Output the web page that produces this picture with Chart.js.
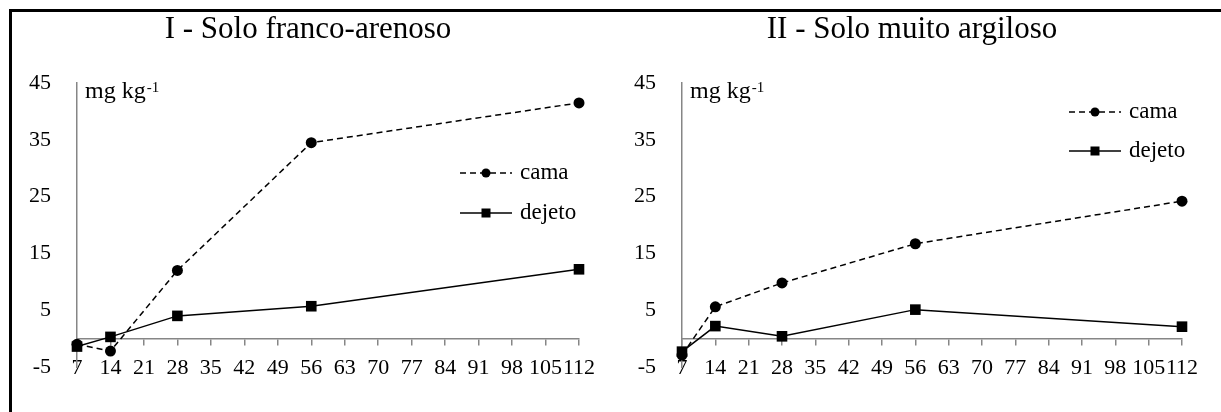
<!DOCTYPE html>
<html lang="pt">
<head>
  <meta charset="UTF-8">
  <title>Solo franco-arenoso / muito argiloso</title>
  <style>
    body {
      margin: 0;
      background: #fff;
      width: 1221px;
      height: 412px;
      overflow: hidden;
      position: relative;
      font-family: "Liberation Serif", "Times New Roman", serif;
    }
    .frame {
      position: absolute;
      left: 9px;
      top: 9px;
      width: 1240px;
      height: 440px;
      border: 3px solid #000;
    }
    .panel {
      position: absolute;
      top: 12px;
      height: 400px;
    }
    #panel1 { left: 12px; width: 596px; }
    #panel2 { left: 612px; width: 609px; }
    .title {
      position: absolute;
      top: 10px;
      width: 500px;
      text-align: center;
      font-size: 31px;
      line-height: 36px;
      color: #000;
      margin: 0;
      font-weight: normal;
    }
    #title1 { left: 58px; }
    #title2 { left: 662px; }
  </style>
</head>
<body>
  <div class="frame"></div>
  <div class="panel" id="panel1"><canvas id="chart1"></canvas></div>
  <div class="panel" id="panel2"><canvas id="chart2"></canvas></div>
  <h2 class="title" id="title1">I - Solo franco-arenoso</h2>
  <h2 class="title" id="title2">II - Solo muito argiloso</h2>

  <script src="https://cdn.jsdelivr.net/npm/chart.js"></script>
  <script>
    // dias de incubacao
    const days = [7, 14, 28, 56, 112];
    const xTicks = [7, 14, 21, 28, 35, 42, 49, 56, 63, 70, 77, 84, 91, 98, 105, 112];
    const yTicks = [-5, 5, 15, 25, 35, 45];

    // I - Solo franco-arenoso
    const camaI = [-1.0, -2.2, 12.0, 34.5, 41.5];
    const dejetoI = [-1.4, 0.3, 4.0, 5.7, 12.2];

    // II - Solo muito argiloso
    const camaII = [-2.9, 5.6, 9.8, 16.7, 24.2];
    const dejetoII = [-2.3, 2.2, 0.4, 5.1, 2.1];

    const seriesNames = ['cama', 'dejeto'];
    const axisGray = '#868686';
    const serif = '"Liberation Serif", "Times New Roman", serif';

    function toPoints(vals) {
      return days.map((d, i) => ({ x: d, y: vals[i] }));
    }

    // unidade "mg kg-1" e legenda com linha + marcador, dentro da area do grafico
    const overlay = {
      id: 'overlay',
      afterDraw(chart, args, opts) {
        const ctx = chart.ctx;
        const area = chart.chartArea;
        ctx.save();
        ctx.fillStyle = '#000';
        ctx.textBaseline = 'alphabetic';
        ctx.font = '24px ' + serif;
        ctx.fillText('mg kg', area.left + 8, area.top + 15);
        const w = ctx.measureText('mg kg').width;
        ctx.font = '15px ' + serif;
        ctx.fillText('-1', area.left + 9 + w, area.top + 9);

        chart.data.datasets.forEach((ds, i) => {
          const x0 = area.right - opts.dx;
          const y = area.top + opts.dy + i * opts.gap;
          ctx.strokeStyle = '#000';
          ctx.lineWidth = 1.5;
          ctx.setLineDash(ds.borderDash || []);
          ctx.beginPath();
          ctx.moveTo(x0, y);
          ctx.lineTo(x0 + 52, y);
          ctx.stroke();
          ctx.setLineDash([]);
          ctx.fillStyle = '#000';
          if (ds.pointStyle === 'rect') {
            ctx.fillRect(x0 + 26 - 4.5, y - 4.5, 9, 9);
          } else {
            ctx.beginPath();
            ctx.arc(x0 + 26, y, 4.5, 0, Math.PI * 2);
            ctx.fill();
          }
          ctx.font = '23px ' + serif;
          ctx.textBaseline = 'middle';
          ctx.fillText(ds.label, x0 + 60, y);
        });
        ctx.restore();
      }
    };

    function makeChart(id, cama, dejeto, axisWidth, padRight, legendPos) {
      const ctx = document.getElementById(id).getContext('2d');
      return new Chart(ctx, {
        type: 'line',
        data: {
          datasets: [{
            label: seriesNames[0],
            data: toPoints(cama),
            borderColor: '#000',
            backgroundColor: '#000',
            borderWidth: 1.5,
            borderDash: [6, 4],
            pointStyle: 'circle',
            pointRadius: 5.5,
            pointBorderWidth: 0,
            clip: false
          }, {
            label: seriesNames[1],
            data: toPoints(dejeto),
            borderColor: '#000',
            backgroundColor: '#000',
            borderWidth: 1.5,
            pointStyle: 'rect',
            pointRadius: 7.5,
            pointBorderWidth: 0,
            clip: false
          }]
        },
        options: {
          responsive: true,
          maintainAspectRatio: false,
          animation: false,
          layout: { padding: { left: 0, right: padRight, top: 71, bottom: 45 } },
          scales: {
            x: {
              type: 'linear',
              position: { y: 0 },
              min: 7,
              max: 112,
              afterBuildTicks: s => { s.ticks = xTicks.map(v => ({ value: v })); },
              grid: { drawOnChartArea: false, drawTicks: true, tickLength: 6, color: axisGray, lineWidth: 1.5 },
              border: { display: true, color: axisGray, width: 1.5 },
              ticks: {
                autoSkip: false,
                maxRotation: 0,
                padding: 10,
                color: '#000',
                font: { family: serif, size: 22 }
              }
            },
            y: {
              min: -5,
              max: 45,
              afterBuildTicks: s => { s.ticks = yTicks.map(v => ({ value: v })); },
              afterFit: s => { s.width = axisWidth; },
              grid: { display: false, drawTicks: false },
              border: { display: true, color: axisGray, width: 1.5 },
              ticks: {
                padding: 26,
                color: '#000',
                font: { family: serif, size: 22 }
              }
            }
          },
          plugins: {
            legend: { display: false },
            tooltip: { enabled: false },
            title: { display: false },
            overlay: legendPos
          }
        },
        plugins: [overlay]
      });
    }

    makeChart('chart1', camaI, dejetoI, 65, 29, { dx: 119, dy: 90, gap: 40 });
    makeChart('chart2', camaII, dejetoII, 70, 39, { dx: 113, dy: 29, gap: 39 });
  </script>
</body>
</html>
